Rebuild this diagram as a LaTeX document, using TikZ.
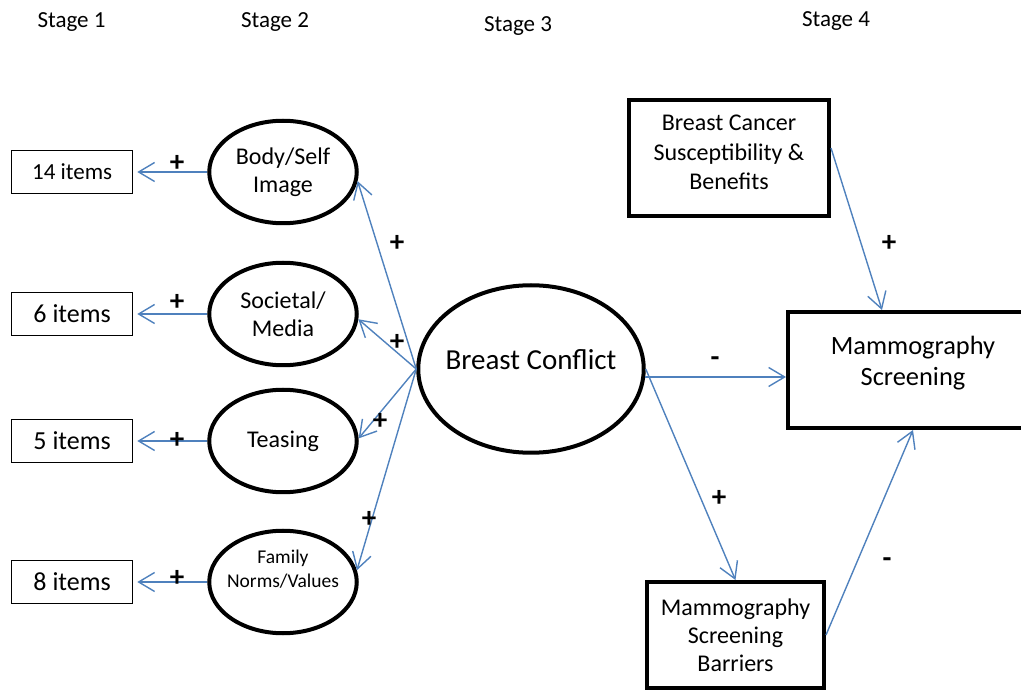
\documentclass[tikz,border=0pt]{standalone}
\usepackage{fontspec}
\setmainfont{Carlito}
\usetikzlibrary{shapes.geometric, positioning, arrows.meta}
\definecolor{linkblue}{RGB}{79,129,189}
\tikzset{
factor/.style={ellipse, draw, line width=4pt, minimum width=147.5pt, minimum height=102.5pt, inner sep=0pt, align=center, font=\fontsize{24}{28}\selectfont}, % the stage 2 and stage 3 ellipses
itembox/.style={rectangle, draw, line width=1.2pt, minimum width=121pt, minimum height=43pt, font=\fontsize{26}{30}\selectfont}, % the thin stage 1 boxes
construct/.style={rectangle, draw, line width=4pt, inner sep=0pt, align=center, font=\fontsize{24}{29.5}\selectfont}, % the thick stage 4 boxes
link/.style={draw=linkblue, line width=1.4pt, -{Straight Barb[length=16pt,width=19pt]}}, % blue directed paths
sign/.style={font=\bfseries\fontsize{29}{29}\selectfont, inner sep=0pt}, % + and - on the paths
stagetext/.style={font=\fontsize{23}{23}\selectfont, inner sep=0pt, anchor=base},
}
\begin{document}
\begin{tikzpicture}[x=1pt, y=-1pt]
    \clip (0,0) rectangle (1021,692);

    \node[stagetext] (st1) at (71.5,28) {Stage 1};
    \node[stagetext] (st2) at (275,28) {Stage 2};
    \node[stagetext] (st3) at (518,32) {Stage 3};
    \node[stagetext] (st4) at (836,27) {Stage 4};

    \node[factor] (body) at (283,172) {Body/Self\\Image};
    \node[factor] (media) at (283,314) {Societal/\\Media};
    \node[factor] (tease) at (283,441) {Teasing};
    \node[factor, font=\fontsize{19.5}{24}\selectfont, inner xsep=-7pt, text depth=27pt] (family) at (283,582) {Family\\Norms/Values};

    \node[itembox, left=74pt of body, font=\fontsize{23}{27}\selectfont] (i14) {14 items};
    \node[itembox, left=74pt of media] (i6) {6 items};
    \node[itembox, left=74pt of tease] (i5) {5 items};
    \node[itembox, left=74pt of family] (i8) {8 items};

    \node[factor, minimum width=225.5pt, minimum height=167.5pt, inner xsep=-10pt, text depth=19pt, font=\fontsize{29}{33}\selectfont] (bc) at (531,369) {Breast Conflict};

    \node[construct, minimum width=200pt, minimum height=116pt, text depth=11pt] (bcs) at (729,158) {Breast Cancer\\Susceptibility \&\\Benefits};
    \node[construct, minimum width=250pt, minimum height=116pt, text depth=19pt, font=\fontsize{26.4}{31}\selectfont] (ms) at (913,370) {Mammography\\Screening};
    \node[construct, minimum width=177pt, minimum height=106pt, font=\fontsize{24}{28}\selectfont] (bar) at (735.5,635) {Mammography\\Screening\\Barriers};

    % stage 2 -> stage 1
    \draw[link, shorten >=4pt] (body) -- (i14);
    \draw[link, shorten >=4pt] (media) -- (i6);
    \draw[link, shorten >=4pt] (tease) -- (i5);
    \draw[link, shorten >=4pt] (family) -- (i8);
    % stage 3 -> stage 2
    \draw[link] (bc.west) -- (body.-7);
    \draw[link] (bc.west) -- (media.-4);
    \draw[link] (bc.west) -- (tease.2);
    \draw[link] (bc.west) -- (family.9);
    % stage 3 -> stage 4
    \draw[link] (bc.-4) -- (bc.-4 -| ms.west);
    \draw[link] (bc.east) -- (bar.north);
    \draw[link] ([yshift=10pt]bcs.east) -- ([xshift=-31pt]ms.north);
    \draw[link] (bar.east) -- (ms.south);

    \node[sign] (p14) at (177,163) {+};
    \node[sign] (p6) at (177,302) {+};
    \node[sign] (p5) at (177,440) {+};
    \node[sign] (p8) at (177,578) {+};
    \node[sign] (pbody) at (397,243) {+};
    \node[sign] (pmedia) at (397,342) {+};
    \node[sign] (ptease) at (380,421) {+};
    \node[sign] (pfamily) at (369,519) {+};
    \node[sign] (mms) at (715,362) {-};
    \node[sign] (pbar) at (719,498) {+};
    \node[sign] (pbcs) at (889,243) {+};
    \node[sign] (mbar) at (887,563) {-};

\end{tikzpicture}
\end{document}
